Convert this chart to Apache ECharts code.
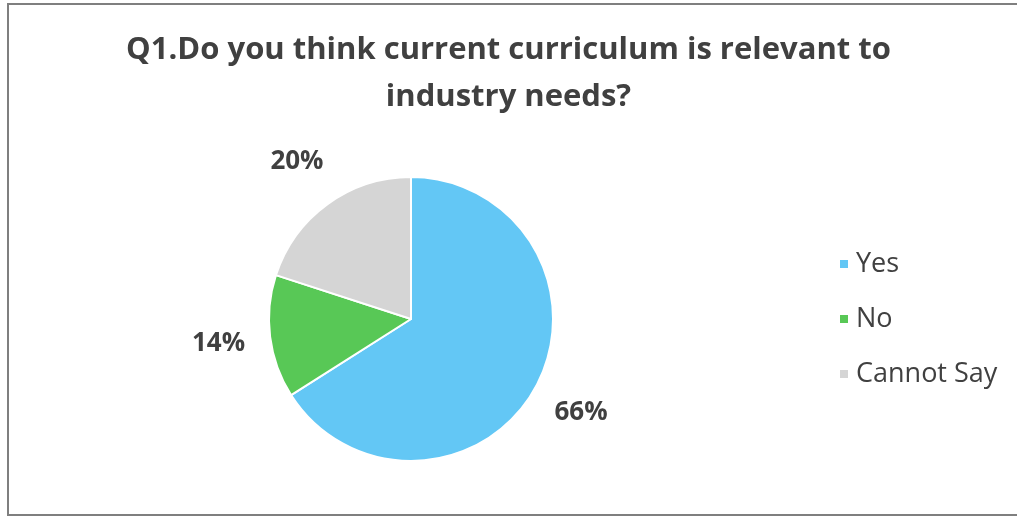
<!DOCTYPE html>
<html>
<head>
<meta charset="utf-8">
<script src="https://cdn.jsdelivr.net/npm/echarts@6/dist/echarts.min.js"></script>
<style>
html,body{margin:0;padding:0;background:#fff;}
#chart{width:1017px;height:517px;}
</style>
</head>
<body>
<div id="chart"></div>
<script>
var titleText = 'Q1.Do you think current curriculum is relevant to\nindustry needs?';
var categories = ['Yes', 'No', 'Cannot Say'];
var percents = [66, 14, 20];
var colors = ['#63C7F5', '#58C856', '#D5D5D5'];

var chart = echarts.init(document.getElementById('chart'));
var pieData = categories.map(function (c, i) {
  return { name: c, value: percents[i], itemStyle: { color: colors[i] } };
});
var labelData = categories.map(function (c, i) {
  return { name: c, value: percents[i] };
});
var font = '"Open Sans", Lato, sans-serif';
chart.setOption({
  animation: false,
  backgroundColor: '#fff',
  graphic: [{
    type: 'rect',
    shape: { x: 8, y: 4, width: 1030, height: 511 },
    style: { fill: 'none', stroke: '#7f7f7f', lineWidth: 2 },
    silent: true
  }],
  title: {
    text: titleText,
    left: 'center',
    top: 22,
    textStyle: {
      fontFamily: font, fontWeight: 'bold', fontSize: 31,
      color: '#404040', lineHeight: 47
    }
  },
  legend: {
    orient: 'vertical',
    left: 833,
    top: 244,
    data: categories,
    icon: 'rect',
    itemWidth: 10,
    itemHeight: 10,
    itemGap: 25,
    textStyle: { fontFamily: font, fontSize: 27, color: '#404040', lineHeight: 30, padding: [0, 0, 0, 2] }
  },
  series: [{
    type: 'pie',
    center: [411, 319],
    radius: [0, 142],
    startAngle: 90,
    clockwise: true,
    data: pieData,
    itemStyle: { borderColor: '#fff', borderWidth: 2 },
    label: { show: false },
    labelLine: { show: false },
    emphasis: { disabled: true }
  }, {
    type: 'pie',
    center: [411, 319],
    radius: [180, 202],
    startAngle: 90,
    clockwise: true,
    silent: true,
    data: labelData,
    itemStyle: { color: 'rgba(0,0,0,0)' },
    label: {
      show: true,
      position: 'inside',
      formatter: '{c}%',
      fontFamily: font, fontWeight: 'bold', fontSize: 26, color: '#404040'
    },
    labelLine: { show: false },
    emphasis: { disabled: true }
  }]
});
</script>
</body>
</html>
